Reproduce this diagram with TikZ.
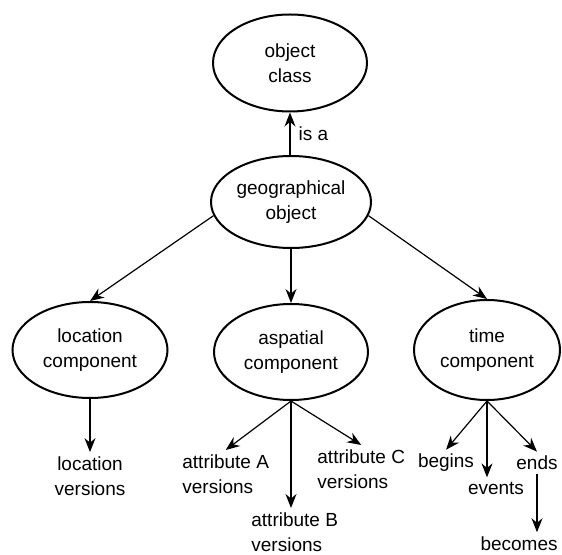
\documentclass[tikz,border=0pt]{standalone}
\usepackage{fontspec}
\setmainfont{Liberation Sans}
\usepackage{tikz}
\usetikzlibrary{positioning, arrows.meta, shapes.geometric, calc}

\begin{document}
\begin{tikzpicture}[
        x=0.5pt, y=-0.5pt,
        font=\fontsize{9.5}{12.5}\selectfont,
        blob/.style={draw, ellipse, line width=1pt, inner sep=0pt, minimum width=#1, minimum height=48pt, align=center},
        blob/.default=77pt,
        lbl/.style={inner sep=2pt, align=left},
        arr/.style={-{Stealth[length=7pt, width=5.5pt]}, line width=0.6pt},
    ]
    \useasboundingbox (0,0) rectangle (562,555);

    % Top: class and object
    \node[blob, minimum height=48.5pt] (obj) at (290,63) {object\\class};
    \node[blob=80pt, minimum height=46pt] (geo) at (291,202) {geographical\\object};

    % Components
    \node[blob=77.5pt] (loc) at (90,350) {location\\component};
    \node[blob] (asp) at (291,352) {aspatial\\component};
    \node[blob=73pt, minimum height=50pt] (time) at (487,350) {time\\component};

    % Versions and events
    \node[lbl, align=center] (locver) at (90,476) {location\\versions};
    \node[lbl, anchor=north west] (attA) at (178,450) {attribute A\\versions};
    \node[lbl, anchor=north west] (attB) at (247,508) {attribute B\\versions};
    \node[lbl, anchor=north west] (attC) at (313,445) {attribute C\\versions};
    \node[lbl] (begins) at (446,463) {begins};
    \node[lbl] (events) at (496,488) {events};
    \node[lbl, anchor=east] (ends) at (562,463) {ends};
    \node[lbl, anchor=south east] (becomes) at (562,555) {becomes};

    % Arrows
    \draw[arr] (geo.north -| obj.south) -- (obj.south) node[midway, right=2pt, lbl] {is a};
    \draw[arr] (geo.190) -- (loc.north);
    \draw[arr] (geo.south) -- (asp.north);
    \draw[arr] (geo.-10) -- (time.north);

    \draw[arr] (loc.south) -- (locver.north);
    \draw[arr] (asp.south) -- (attA.north);
    \draw[arr] (asp.south) -- (asp.south |- attB.north);
    \draw[arr] (asp.south) -- (attC.north);

    \draw[arr] (time.south) -- (begins.north);
    \draw[arr] (time.south) -- (time.south |- events.north);
    \draw[arr] (time.south) -- (ends.north);
    \draw[arr] (ends.south) -- (ends.south |- becomes.north);
\end{tikzpicture}
\end{document}
